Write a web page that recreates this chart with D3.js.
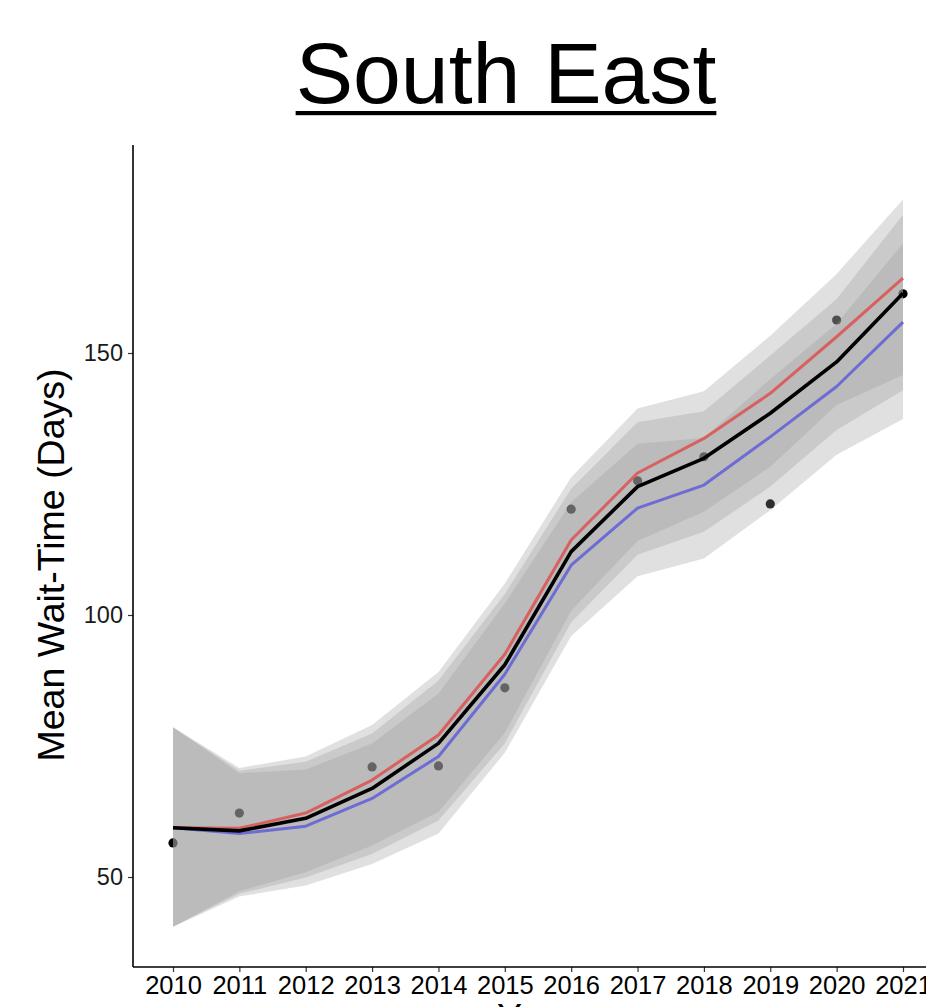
<!DOCTYPE html>
<html>
<head>
<meta charset="utf-8">
<script src="https://cdn.jsdelivr.net/npm/d3@7"></script>
<style>
  html, body { margin: 0; padding: 0; background: #fff; }
  svg { display: block; }
  text { font-family: "Liberation Sans", Arial, Helvetica, sans-serif; }
</style>
</head>
<body>
<svg id="chart" width="926" height="1007"></svg>
<script>
// ---- data ----
const years = [2010, 2011, 2012, 2013, 2014, 2015, 2016, 2017, 2018, 2019, 2020, 2021];
// observed yearly means (2012 not visible in the reference)
const observed = [56.5, 62.2, null, 71.0, 71.2, 86.1, 120.2, 125.6, 130.2, 121.2, 156.3, 161.3];
const fitBlack = [59.4, 58.8, 61.2, 66.9, 75.5, 90.5, 112.1, 124.5, 129.9, 138.5, 148.3, 161.4];
const fitRed   = [59.4, 59.3, 62.2, 68.5, 77.1, 92.5, 114.3, 127.1, 133.7, 142.3, 153.1, 164.3];
const fitBlue  = [59.4, 58.3, 59.7, 65.0, 73.0, 88.7, 109.5, 120.4, 124.8, 134.0, 143.6, 155.9];
const ciUp   = [19.2, 11.5, 10.8, 10.5, 12.0, 13.5, 12.0, 12.3, 9.0, 11.0, 12.0, 15.0];
const ciDown = [18.9, 12.0, 11.3, 12.5, 14.7, 15.0, 13.5, 13.0, 14.0, 14.0, 13.0, 18.5];
const yTicks = [50, 100, 150];
const titleText = "South East";
const yLabel = "Mean Wait-Time (Days)";
const xLabel = "Year";

// ---- layout ----
const svg = d3.select("#chart");
const x = d3.scaleLinear().domain([2010, 2021]).range([173, 903]);
const y = d3.scaleLinear().domain([50, 150]).range([877, 353]);
const plotLeft = 133, plotRight = 926, plotTop = 145, plotBottom = 967;

// points (drawn under ribbons)
svg.append("g").selectAll("circle")
  .data(years.map((yr, i) => ({yr, v: observed[i]})).filter(d => d.v != null))
  .join("circle")
  .attr("cx", d => x(d.yr))
  .attr("cy", d => y(d.v))
  .attr("r", 4.6)
  .attr("fill", "#000");

// ribbons
const series = [
  {vals: fitRed, color: "#d8605f", w: 3},
  {vals: fitBlack, color: "#000000", w: 3.6},
  {vals: fitBlue, color: "#6c6cd4", w: 3}
];
const area = d3.area()
  .x((d, i) => x(years[i]))
  .y0((d, i) => y(d - ciDown[i]))
  .y1((d, i) => y(d + ciUp[i]));
svg.append("g").selectAll("path")
  .data(series)
  .join("path")
  .attr("d", s => area(s.vals))
  .attr("fill", "#999999")
  .attr("fill-opacity", 0.3)
  .attr("stroke", "none");

// lines
const line = d3.line().x((d, i) => x(years[i])).y(d => y(d));
const lineOrder = [series[0], series[2], series[1]];
svg.append("g").selectAll("path")
  .data(lineOrder)
  .join("path")
  .attr("d", s => line(s.vals))
  .attr("fill", "none")
  .attr("stroke", s => s.color)
  .attr("stroke-width", s => s.w)
  .attr("stroke-linejoin", "round");

// y axis
const yAxisG = svg.append("g").attr("transform", `translate(${plotLeft},0)`)
  .call(d3.axisLeft(y).tickValues(yTicks).tickSize(5).tickPadding(5).tickFormat(d3.format("d")));
yAxisG.select(".domain").remove();
yAxisG.selectAll(".tick line").attr("stroke", "#333").attr("stroke-width", 1.2);
yAxisG.selectAll(".tick text").attr("font-size", 23.5).attr("fill", "#1a1a1a")
  .attr("font-family", "Liberation Sans, Arial, sans-serif");
svg.append("line").attr("x1", plotLeft).attr("x2", plotLeft)
  .attr("y1", plotTop).attr("y2", plotBottom)
  .attr("stroke", "#000").attr("stroke-width", 1.6);

// x axis
const xAxisG = svg.append("g").attr("transform", `translate(0,${plotBottom})`)
  .call(d3.axisBottom(x).tickValues(years).tickSize(5).tickPadding(4).tickFormat(d3.format("d")));
xAxisG.select(".domain").remove();
xAxisG.selectAll(".tick line").attr("stroke", "#333").attr("stroke-width", 1.2);
xAxisG.selectAll(".tick text").attr("font-size", 25.5).attr("fill", "#000")
  .attr("font-family", "Liberation Sans, Arial, sans-serif");
svg.append("line").attr("x1", plotLeft).attr("x2", plotRight)
  .attr("y1", plotBottom).attr("y2", plotBottom)
  .attr("stroke", "#000").attr("stroke-width", 1.6);

// axis titles
svg.append("text")
  .attr("transform", `translate(64,565) rotate(-90)`)
  .attr("text-anchor", "middle")
  .attr("font-size", 37.5)
  .attr("fill", "#000")
  .text(yLabel);
svg.append("text")
  .attr("x", 535).attr("y", 1030)
  .attr("text-anchor", "middle")
  .attr("font-size", 37.5)
  .attr("fill", "#000")
  .text(xLabel);

// title with underline
const title = svg.append("text")
  .attr("x", 506).attr("y", 103)
  .attr("text-anchor", "middle")
  .attr("font-size", 86)
  .attr("fill", "#000")
  .text(titleText);
const tw = title.node().getComputedTextLength();
svg.append("rect")
  .attr("x", 506 - tw / 2).attr("y", 111)
  .attr("width", tw).attr("height", 4.2)
  .attr("fill", "#000");
</script>
</body>
</html>
